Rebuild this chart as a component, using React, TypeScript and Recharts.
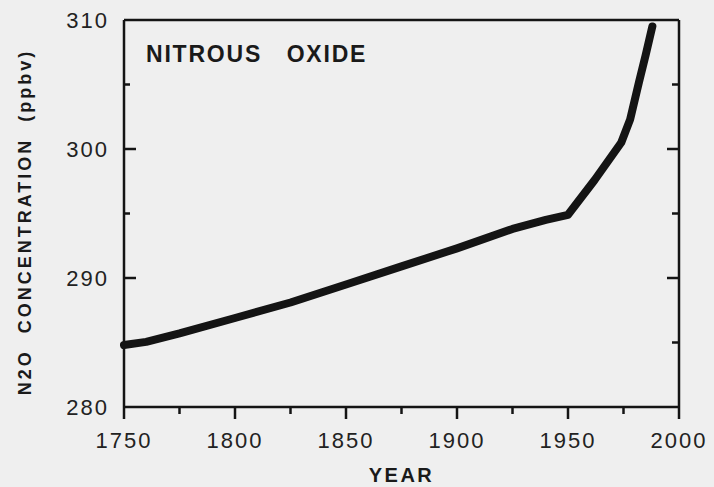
import React from "react";
import { Line, LineChart, ReferenceLine, XAxis, YAxis } from "recharts";

// values
const years = [1750, 1760, 1775, 1800, 1825, 1850, 1875, 1900, 1925, 1940, 1950, 1962, 1974, 1978, 1982, 1985, 1988];
const n2o = [284.8, 285.05, 285.7, 286.9, 288.1, 289.5, 290.9, 292.3, 293.8, 294.5, 294.9, 297.6, 300.5, 302.3, 305.2, 307.3, 309.5];
const xMajor = [1750, 1800, 1850, 1900, 1950, 2000];
const xMinor = [1775, 1825, 1875, 1925, 1975];
const yMajor = [280, 290, 300, 310];
const yInner = [285, 290, 295, 300, 305];

const data = years.map((year, i) => ({ year, n2o: n2o[i] }));

const W = 714;
const H = 487;
// plot box edges
const LEFT = 124;
const RIGHT = 679;
const TOP = 20;
const BOTTOM = 407;
const AXW = 30;
const M = { top: TOP - 5, right: W - RIGHT - 5, left: LEFT - AXW, bottom: H - BOTTOM - AXW };
const X0 = 1750;
const X1 = 2000;
const Y0 = 280;
const Y1 = 310;
// data units per pixel, for tick mark lengths
const XU = (X1 - X0) / (RIGHT - LEFT);
const YU = (Y1 - Y0) / (BOTTOM - TOP);
const INK = "#141414";
const FONT = "'Liberation Sans', Arial, sans-serif";
const axisLine = { stroke: INK, strokeWidth: 2.5 };
const tickText = { fontSize: 22, fill: "#222", fontFamily: FONT, letterSpacing: 2 };

const mark = (key: string, a: { x: number; y: number }, b: { x: number; y: number }) => (
    <ReferenceLine key={key} segment={[a, b]} stroke={INK} strokeWidth={2.5} ifOverflow="visible" />
);

export default function App() {
    return (
        <div style={{ position: "absolute", left: 0, top: 0, width: W, height: H, background: "#efefef", fontFamily: FONT }}>
            <LineChart width={W} height={H} data={data} margin={M}>
                <XAxis
                    dataKey="year"
                    type="number"
                    domain={[X0, X1]}
                    ticks={xMajor}
                    interval={0}
                    height={AXW}
                    axisLine={axisLine}
                    tickLine={false}
                    tickSize={0}
                    tickMargin={25}
                    tick={tickText}
                />
                <XAxis xAxisId="top" orientation="top" type="number" domain={[X0, X1]} height={5} axisLine={axisLine} tick={false} tickLine={false} />
                <YAxis
                    type="number"
                    domain={[Y0, Y1]}
                    ticks={yMajor}
                    interval={0}
                    width={AXW}
                    axisLine={axisLine}
                    tickLine={false}
                    tickSize={0}
                    tickMargin={15}
                    tick={tickText}
                />
                <YAxis yAxisId="right" orientation="right" type="number" domain={[Y0, Y1]} width={5} axisLine={axisLine} tick={false} tickLine={false} />
                {xMajor.map((x) => mark(`xM${x}`, { x, y: Y0 }, { x, y: Y0 - 12 * YU }))}
                {xMinor.map((x) => mark(`xm${x}`, { x, y: Y0 }, { x, y: Y0 - 7 * YU }))}
                {yInner.map((y) => mark(`yl${y}`, { x: X0, y }, { x: X0 + (y % 10 === 0 ? 12 : 6) * XU, y }))}
                {yInner.map((y) => mark(`yr${y}`, { x: X1, y }, { x: X1 - (y % 10 === 0 ? 12 : 7) * XU, y }))}
                <Line
                    type="linear"
                    dataKey="n2o"
                    stroke={INK}
                    strokeWidth={8}
                    strokeLinecap="round"
                    strokeLinejoin="round"
                    dot={false}
                    activeDot={false}
                    isAnimationActive={false}
                />
            </LineChart>
            <div style={{ position: "absolute", left: 146, top: 41, fontSize: 23, fontWeight: "bold", letterSpacing: 1.8, color: "#1a1a1a", whiteSpace: "pre" }}>
                NITROUS   OXIDE
            </div>
            <div style={{ position: "absolute", left: 0, width: RIGHT + LEFT, top: 464, textAlign: "center", fontSize: 20, fontWeight: "bold", letterSpacing: 2.5, color: "#1a1a1a" }}>
                YEAR
            </div>
            <div
                style={{
                    position: "absolute",
                    left: 25,
                    top: 222,
                    transform: "translate(-50%, -50%) rotate(-90deg)",
                    fontSize: 18,
                    fontWeight: "bold",
                    letterSpacing: 3,
                    color: "#1a1a1a",
                    whiteSpace: "pre",
                }}
            >
                N2O  CONCENTRATION  (ppbv)
            </div>
        </div>
    );
}
